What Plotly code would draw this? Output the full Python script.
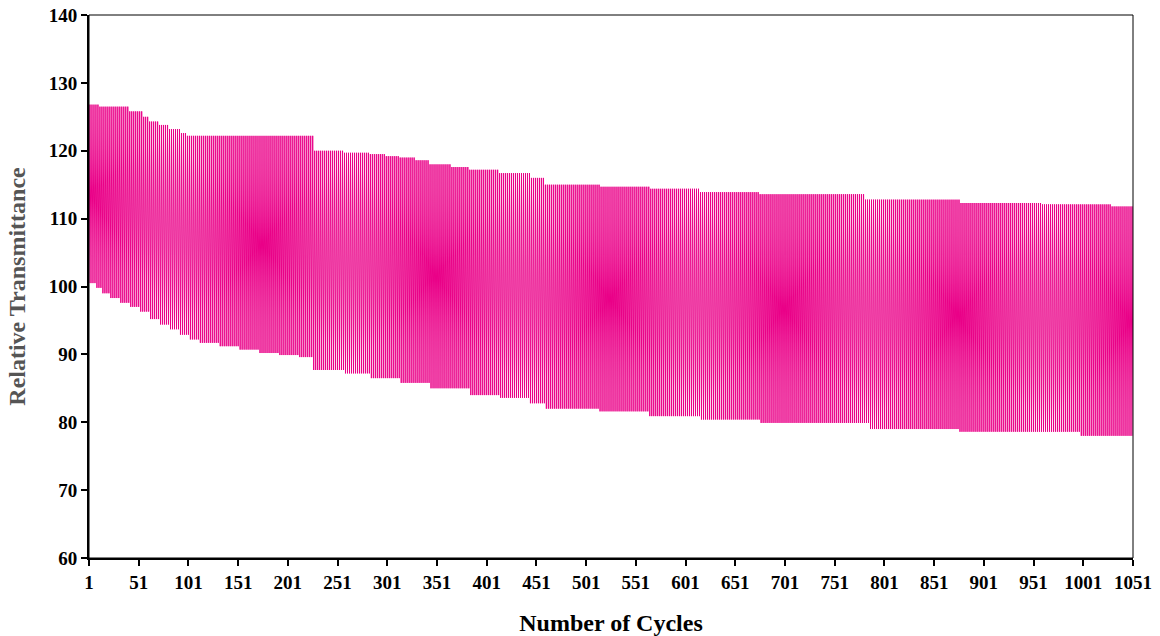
import plotly.graph_objects as go

# Step-held envelope readings (cycle where level starts, value)
upper_start = [2, 12, 42, 55, 62, 72, 82, 93, 100, 227, 258, 284, 300, 314, 330, 344,
               365, 384, 414, 445, 460, 515, 565, 616, 676, 782, 877, 960, 1030]
upper_vals = [126.8, 126.5, 125.8, 125.0, 124.3, 123.8, 123.2, 122.6, 122.2, 120.0, 119.7,
              119.5, 119.2, 119.0, 118.6, 118.0, 117.6, 117.2, 116.7, 116.0, 115.0, 114.7,
              114.4, 113.9, 113.6, 112.8, 112.3, 112.1, 111.8]
lower_start = [1, 8, 15, 22, 32, 42, 52, 62, 72, 82, 93, 103, 113, 133, 153, 173, 193, 213,
               227, 258, 284, 314, 344, 384, 414, 445, 460, 515, 565, 616, 676, 786, 877, 998]
lower_vals = [100.5, 99.8, 99.0, 98.3, 97.6, 97.0, 96.3, 95.2, 94.4, 93.7, 92.9, 92.2, 91.7,
              91.2, 90.7, 90.2, 89.9, 89.6, 87.7, 87.2, 86.5, 85.8, 85.0, 84.0, 83.6, 82.8,
              82.0, 81.6, 80.9, 80.4, 79.9, 79.0, 78.6, 78.0]
n_cycles = 1051
x_ticks = list(range(1, 1052, 50))
y_ticks = [60, 70, 80, 90, 100, 110, 120, 130, 140]


def level(starts, vals, c):
    v = vals[0]
    for s, val in zip(starts, vals):
        if c >= s:
            v = val
    return v


xs = list(range(1, n_cycles + 1))
ys = [level(lower_start, lower_vals, c) if c % 2 == 1 else level(upper_start, upper_vals, c)
      for c in xs]

fig = go.Figure()
fig.add_trace(go.Scatter(x=xs, y=ys, mode="lines",
                         line=dict(color="#EA0088", width=1), showlegend=False))

tickfont = dict(family="Liberation Serif", size=19, color="black", weight="bold")
fig.update_layout(
    width=1160, height=636,
    margin=dict(l=89, r=27, t=15, b=78),
    plot_bgcolor="white", paper_bgcolor="white",
    font=dict(family="Liberation Serif", size=19, color="black"),
    xaxis=dict(range=[1, 1051], tickvals=x_ticks, ticktext=[str(t) for t in x_ticks],
               automargin=False,
               showgrid=False, zeroline=False, showline=True, linecolor="black", linewidth=2,
               ticks="outside", ticklen=6, tickwidth=2, tickcolor="black",
               tickfont=tickfont,
               title=dict(text="<b>Number of Cycles</b>",
                          font=dict(family="Liberation Serif", size=24, color="black"),
                          standoff=24)),
    yaxis=dict(range=[60, 140], tickvals=y_ticks, ticktext=[str(t) for t in y_ticks],
               automargin=False,
               showgrid=False, zeroline=False,
               showline=True, linecolor="black", linewidth=2,
               ticks="outside", ticklen=6, tickwidth=2, tickcolor="black",
               tickfont=tickfont,
               title=dict(text="<b>Relative Transmittance</b>",
                          font=dict(family="Liberation Serif", size=24, color="#555555"),
                          standoff=16)),
    shapes=[dict(type="rect", xref="paper", yref="paper", x0=0, y0=0, x1=1, y1=1,
                 line=dict(color="black", width=1), layer="above")],
)

fig.write_html("out.html")
